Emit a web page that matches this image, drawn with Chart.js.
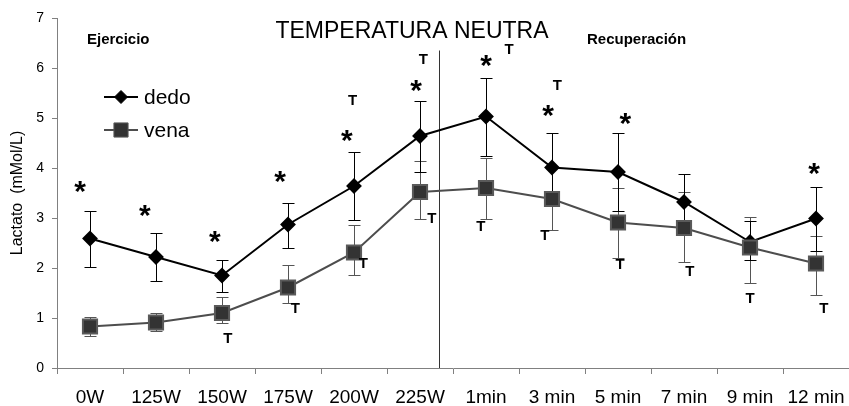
<!DOCTYPE html>
<html>
<head>
<meta charset="utf-8">
<script src="https://cdn.jsdelivr.net/npm/chart.js@4.4.1/dist/chart.umd.min.js"></script>
<style>
  html, body { margin: 0; padding: 0; background: #fff; overflow: hidden; }
  #wrap { width: 849px; height: 406px; }
</style>
</head>
<body>
<div id="wrap"><canvas id="chart"></canvas></div>
<script>
const labels = ['0W', '125W', '150W', '175W', '200W', '225W', '1min', '3 min', '5 min', '7 min', '9 min', '12 min'];
const yTicks = [0, 1, 2, 3, 4, 5, 6, 7];

// mean lactate and error bar ends
const dedo = [2.59, 2.22, 1.85, 2.87, 3.64, 4.64, 5.03, 4.01, 3.92, 3.32, 2.52, 2.99];
const dedoHigh = [3.15, 2.69, 2.17, 3.30, 4.33, 5.35, 5.81, 4.70, 4.70, 3.88, 2.94, 3.62];
const dedoLow = [2.02, 1.75, 1.53, 2.41, 2.95, 3.92, 4.25, 3.32, 3.14, 2.76, 2.17, 2.35];
const vena = [0.83, 0.91, 1.10, 1.61, 2.31, 3.52, 3.60, 3.38, 2.91, 2.80, 2.41, 2.09];
const venaHigh = [1.02, 1.10, 1.42, 2.07, 2.87, 4.14, 4.19, 4.00, 3.60, 3.52, 3.03, 2.64];
const venaLow = [0.64, 0.74, 0.91, 1.31, 1.87, 2.99, 2.97, 2.77, 2.21, 2.12, 1.70, 1.47];

// significance marks (category position, value)
const starAt = [-0.15, 0.83, 1.89, 2.88, 3.89, 4.94, 6.0, 6.94, 8.11, 10.97];
const starVal = [3.69, 3.21, 2.69, 3.89, 4.71, 5.71, 6.21, 5.21, 5.05, 4.05];
const tAt = [2.09, 3.11, 4.14, 5.18, 5.92, 6.89, 8.03, 9.09, 10.0, 11.12, 3.98, 5.05, 6.35, 7.08];
const tVal = [0.61, 1.21, 2.11, 3.01, 2.85, 2.67, 2.09, 1.95, 1.41, 1.21, 5.37, 6.19, 6.39, 5.67];

// exercise / recovery split
const splitAt = 5.29;
const splitTop = 6.35;

const FONT = "'Liberation Sans', Arial, sans-serif";

function errorBars(ctx, xs, ys, hi, lo, color) {
    ctx.strokeStyle = color;
    ctx.lineWidth = 1;
    ctx.beginPath();
    for (let i = 0; i < hi.length; i++) {
        const px = Math.round(xs.getPixelForValue(i)) + 0.5;
        const top = Math.round(ys.getPixelForValue(hi[i])) + 0.5;
        const bot = Math.round(ys.getPixelForValue(lo[i])) + 0.5;
        ctx.moveTo(px, top); ctx.lineTo(px, bot);
        ctx.moveTo(px - 6, top); ctx.lineTo(px + 6, top);
        ctx.moveTo(px - 6, bot); ctx.lineTo(px + 6, bot);
    }
    ctx.stroke();
}

const overlay = {
    id: 'overlay',
    beforeDatasetsDraw(chart) {
        const { ctx, scales: { x, y } } = chart;
        ctx.save();
        errorBars(ctx, x, y, venaHigh, venaLow, '#555555');
        errorBars(ctx, x, y, dedoHigh, dedoLow, '#000000');
        const sx = Math.round(x.getPixelForValue(splitAt)) + 0.5;
        ctx.strokeStyle = '#333333';
        ctx.beginPath();
        ctx.moveTo(sx, y.getPixelForValue(splitTop));
        ctx.lineTo(sx, y.getPixelForValue(0));
        ctx.stroke();
        ctx.restore();
    },
    afterDatasetsDraw(chart) {
        const { ctx, scales: { x, y } } = chart;
        ctx.save();
        ctx.fillStyle = '#000';
        ctx.textAlign = 'center';
        ctx.textBaseline = 'alphabetic';

        ctx.font = 'bold 30px ' + FONT;
        starAt.forEach((p, i) => {
            ctx.fillText('*', x.getPixelForValue(p), y.getPixelForValue(starVal[i]) + 17);
        });
        ctx.font = 'bold 15px ' + FONT;
        tAt.forEach((p, i) => {
            ctx.fillText('T', x.getPixelForValue(p), y.getPixelForValue(tVal[i]) + 5.5);
        });

        ctx.textBaseline = 'middle';
        ctx.font = '23px ' + FONT;
        ctx.fillText('TEMPERATURA NEUTRA', 412, 32);
        ctx.font = 'bold 15px ' + FONT;
        ctx.textAlign = 'left';
        ctx.fillText('Ejercicio', 87, 40);
        ctx.fillText('Recuperación', 587, 40);

        // legend
        const rows = [
            { text: 'dedo', y: 97, ds: chart.data.datasets[0] },
            { text: 'vena', y: 130, ds: chart.data.datasets[1] }
        ];
        rows.forEach(r => {
            ctx.strokeStyle = r.ds.borderColor;
            ctx.lineWidth = 2;
            ctx.beginPath();
            ctx.moveTo(104, r.y); ctx.lineTo(138, r.y);
            ctx.stroke();
            ctx.fillStyle = r.ds.pointBackgroundColor;
            ctx.strokeStyle = r.ds.pointBorderColor;
            ctx.lineWidth = 1;
            Chart.helpers.drawPoint(ctx, {
                pointStyle: r.ds.pointStyle, radius: r.ds.pointRadius, borderWidth: 1
            }, 121, r.y);
            ctx.fillStyle = '#000';
            ctx.font = '21px ' + FONT;
            ctx.fillText(r.text, 144, r.y + 1);
        });
        ctx.restore();
    }
};

new Chart(document.getElementById('chart'), {
    type: 'line',
    data: {
        labels: labels,
        datasets: [
            {
                label: 'dedo',
                data: dedo,
                borderColor: '#000000',
                borderWidth: 2,
                pointStyle: 'rectRot',
                pointRadius: 6.5,
                pointBackgroundColor: '#000000',
                pointBorderColor: '#000000',
                tension: 0,
                order: 1
            },
            {
                label: 'vena',
                data: vena,
                borderColor: '#4d4d4d',
                borderWidth: 2,
                pointStyle: 'rect',
                pointRadius: 10,
                pointBackgroundColor: '#333333',
                pointBorderColor: '#5a5a5a',
                tension: 0,
                order: 0
            }
        ]
    },
    options: {
        responsive: true,
        maintainAspectRatio: false,
        animation: false,
        layout: { autoPadding: false, padding: { top: 18, left: 0, right: 0, bottom: 0 } },
        plugins: { legend: { display: false }, tooltip: { enabled: false } },
        scales: {
            x: {
                offset: true,
                grid: { offset: true, drawOnChartArea: false, tickLength: 6, color: '#808080' },
                border: { color: '#808080' },
                ticks: { font: { family: FONT, size: 19 }, color: '#000', padding: 12, maxRotation: 0, autoSkip: false },
                afterFit(s) { s.height = 38; s.paddingLeft = 0; s.paddingRight = 0; }
            },
            y: {
                min: 0,
                max: 7,
                afterBuildTicks(s) { s.ticks = yTicks.map(v => ({ value: v })); },
                ticks: { font: { family: FONT, size: 14 }, color: '#000', padding: 8 },
                grid: { drawOnChartArea: false, tickLength: 5, color: '#808080' },
                border: { color: '#808080' },
                title: { display: true, text: 'Lactato  (mMol/L)', font: { family: FONT, size: 16 }, color: '#000', padding: { top: 8 } },
                afterFit(s) { s.width = 57; s.paddingTop = 0; s.paddingBottom = 0; }
            }
        }
    },
    plugins: [overlay]
});
</script>
</body>
</html>
